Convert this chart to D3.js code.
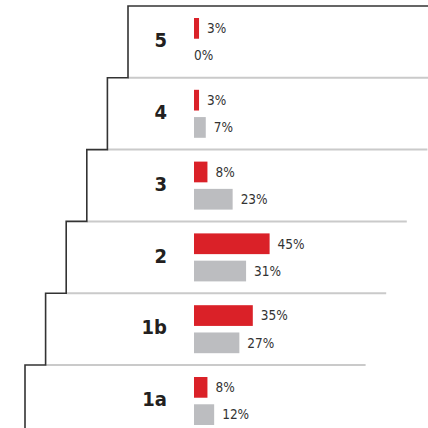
<!DOCTYPE html>
<html>
<head>
<meta charset="utf-8">
<script src="https://cdn.jsdelivr.net/npm/d3@7"></script>
<style>
  html, body { margin: 0; padding: 0; background: #fff; }
  svg { display: block; }
  text { font-family: 'Liberation Sans Narrow', 'DejaVu Sans Condensed', 'DejaVu Sans', sans-serif; font-stretch: condensed; }
</style>
</head>
<body>
<script>
// ---- data ----
const categories = ["5", "4", "3", "2", "1b", "1a"];
const seriesKeys = ["red", "gray"];
const redValues = [3, 3, 8, 45, 35, 8];
const grayValues = [0, 7, 23, 31, 27, 12];

const W = 428, H = 428;
const svg = d3.select("body").append("svg").attr("width", W).attr("height", H);

const colors = { red: "#da2128", gray: "#bcbdc0" };

// row scale
const y = d3.scaleBand().domain(categories).range([6, 6 + 6 * 71.8]).padding(0);
// step left edge per row
const stepX = d3.scaleLinear().domain([0, categories.length - 1]).range([128, 25]);
// bar scale (percent)
const x = d3.scaleLinear().domain([0, 100]).range([194, 194 + 168]);
// sub-band inside row
const sub = d3.scaleBand().domain(seriesKeys).range([12, 60]).paddingInner(0.24);

const rows = categories.map((c, i) => ({ cat: c, i, red: redValues[i], gray: grayValues[i] }));

// gray separator lines (row tops below first row)
rows.forEach(r => {
  if (r.i > 0) {
    const top = y(r.cat);
    const prevX = stepX(r.i - 1);
    svg.append("line")
      .attr("x1", prevX).attr("x2", prevX + 320)
      .attr("y1", top).attr("y2", top)
      .attr("stroke", "#cacaca").attr("stroke-width", 2);
  }
});

// staircase outline
const pts = [];
rows.forEach(r => {
  const top = y(r.cat);
  const sx = stepX(r.i);
  if (r.i === 0) pts.push([sx + 320, top]);
  pts.push([sx, top]);
  pts.push([sx, top + y.bandwidth()]);
});
svg.append("path")
  .attr("d", d3.line()(pts))
  .attr("fill", "none")
  .attr("stroke", "#333")
  .attr("stroke-width", 1.6)
  .attr("stroke-linejoin", "miter");

// category labels
svg.selectAll("text.cat").data(rows).join("text")
  .attr("class", "cat")
  .attr("x", 167)
  .attr("y", d => y(d.cat) + y.bandwidth() / 2 - 2)
  .attr("dy", "0.36em")
  .attr("text-anchor", "end")
  .attr("font-weight", "bold")
  .attr("font-size", 20)
  .attr("fill", "#231f20")
  .text(d => d.cat);

// bars
const barData = [];
rows.forEach(r => seriesKeys.forEach(k => barData.push({ cat: r.cat, key: k, v: r[k] })));

svg.selectAll("rect.bar").data(barData).join("rect")
  .attr("class", "bar")
  .attr("x", x(0))
  .attr("y", d => y(d.cat) + sub(d.key))
  .attr("width", d => x(d.v) - x(0))
  .attr("height", sub.bandwidth())
  .attr("fill", d => colors[d.key]);

svg.selectAll("text.val").data(barData).join("text")
  .attr("class", "val")
  .attr("x", d => d.v > 0 ? x(d.v) + 8 : x(0))
  .attr("y", d => y(d.cat) + sub(d.key) + sub.bandwidth() / 2)
  .attr("dy", "0.36em")
  .attr("font-size", 13.5)
  .attr("fill", "#333")
  .text(d => d.v + "%");
</script>
</body>
</html>
